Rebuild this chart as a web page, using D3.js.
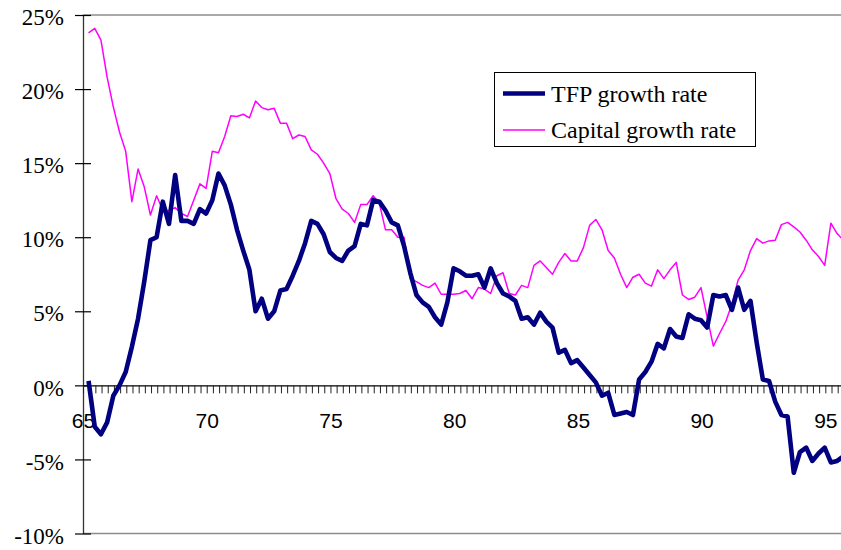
<!DOCTYPE html>
<html><head><meta charset="utf-8">
<script src="https://cdn.jsdelivr.net/npm/d3@7"></script>
<style>
html,body{margin:0;padding:0;background:#fff;}
svg{display:block;}
</style></head>
<body>
<svg id="chart" width="841" height="550"></svg>
<script>
// Quarterly data starting 1965Q1
const startYear = 65;
const yearLabels = ["65","70","75","80","85","90","95"];
const yTicks = [-10,-5,0,5,10,15,20,25];
const seriesNames = ["TFP growth rate","Capital growth rate"];
const tfp = [0.3,-2.8,-3.3,-2.5,-0.7,0.0,0.9,2.6,4.5,7.0,
 9.8,10.0,12.4,10.9,14.2,11.1,11.1,10.9,11.9,11.6,
 12.5,14.3,13.5,12.2,10.5,9.1,7.8,5.0,5.85,4.5,
 5.0,6.4,6.5,7.4,8.4,9.6,11.1,10.9,10.2,9.0,
 8.6,8.4,9.1,9.4,10.9,10.8,12.5,12.4,11.8,11.0,
 10.8,9.4,7.6,6.1,5.6,5.3,4.6,4.1,5.6,7.9,
 7.7,7.4,7.4,7.5,6.6,7.9,6.9,6.2,6.0,5.7,
 4.5,4.6,4.1,4.9,4.3,3.9,2.2,2.4,1.5,1.7,
 1.2,0.7,0.2,-0.7,-0.5,-2.0,-1.9,-1.8,-2.0,0.4,
 0.9,1.6,2.8,2.5,3.8,3.3,3.2,4.8,4.5,4.4,
 3.9,6.1,6.0,6.1,5.1,6.6,5.1,5.7,2.9,0.4,
 0.3,-1.1,-2.0,-2.1,-5.9,-4.5,-4.2,-5.1,-4.6,-4.2,
 -5.2,-5.1,-4.8];
const capital = [23.8,24.1,23.3,20.8,18.8,17.1,15.8,12.4,14.6,13.4,
 11.5,12.8,11.8,11.8,12.0,11.6,11.4,12.5,13.6,13.3,
 15.8,15.7,16.8,18.2,18.15,18.3,18.05,19.2,18.75,18.6,
 18.7,17.7,17.7,16.65,16.9,16.8,15.9,15.6,15.0,14.3,
 12.6,11.9,11.6,11.0,12.2,12.2,12.8,12.3,10.5,10.5,
 10.0,10.0,7.2,7.0,6.75,6.6,6.9,6.15,6.15,6.15,
 6.2,6.4,5.85,6.6,6.5,6.2,7.4,7.6,6.2,6.1,
 6.75,6.6,8.1,8.4,7.95,7.5,8.3,8.9,8.4,8.4,
 9.3,10.8,11.2,10.5,9.1,8.6,7.5,6.6,7.3,7.5,
 6.9,6.7,7.8,7.2,7.8,8.3,6.1,5.8,5.95,6.6,
 4.6,2.65,3.5,4.3,5.5,7.1,7.8,9.1,9.9,9.6,
 9.75,9.8,10.85,11.0,10.7,10.35,9.8,9.15,8.7,8.1,
 10.95,10.25,9.8];

const SERIF = "'Liberation Serif','Times New Roman',Times,serif";
const SANS = "'Liberation Sans',Arial,Helvetica,sans-serif";

const svg = d3.select("#chart");
const nQ = 123;
const mLeft = 83, mTop = 15, mBottom = 533.5, qw = 6.186;
const mRight = mLeft + nQ*qw;
const pointOffset = 0.9;

const x = d3.scaleLinear().domain([0, nQ]).range([mLeft, mRight]);
const y = d3.scaleLinear().domain([-10, 25]).range([mBottom, mTop]);

// plot frame (gray)
const frame = svg.append("g").attr("stroke","#8c8c8c").attr("stroke-width",1.3).attr("fill","none");
frame.append("line").attr("x1",mLeft).attr("x2",mRight).attr("y1",y(25)).attr("y2",y(25));
frame.append("line").attr("x1",mLeft).attr("x2",mRight).attr("y1",y(-10)).attr("y2",y(-10));
frame.append("line").attr("x1",mRight).attr("x2",mRight).attr("y1",y(25)).attr("y2",y(-10));

// y axis
const yAxis = svg.append("g").attr("transform",`translate(${mLeft},0)`)
  .call(d3.axisLeft(y).tickValues(yTicks).tickFormat(d=>d+"%").tickSize(8).tickSizeOuter(0).tickPadding(11));
yAxis.attr("font-family",SERIF).attr("font-size",23);
yAxis.selectAll("text").style("font-family",SERIF).style("font-size","23px").style("fill","#000").attr("dy","0.42em");
yAxis.select(".domain").attr("stroke","#333").attr("stroke-width",1.3);
yAxis.selectAll(".tick line").attr("stroke","#000").attr("stroke-width",1.2);
const yAxisR = svg.append("g").attr("transform",`translate(${mLeft},0)`)
  .call(d3.axisRight(y).tickValues(yTicks).tickFormat("").tickSize(8).tickSizeOuter(0));
yAxisR.select(".domain").remove();
yAxisR.selectAll(".tick line").attr("stroke","#000").attr("stroke-width",1.2);

// x axis at 0%
const xAxis = svg.append("g").attr("transform",`translate(0,${y(0)})`)
  .call(d3.axisBottom(x).tickValues(d3.range(0, nQ+1)).tickSize(8).tickSizeOuter(0).tickPadding(20)
    .tickFormat(d => d % 20 === 0 && yearLabels[d/20] ? yearLabels[d/20] : ""));
xAxis.attr("font-family",SANS).attr("font-size",21);
xAxis.selectAll("text").style("font-family",SANS).style("font-size","21px").style("fill","#000");
xAxis.select(".domain").attr("stroke","#000").attr("stroke-width",1.2);
xAxis.selectAll(".tick line").attr("stroke","#222").attr("stroke-width",1);

// lines
const line = d3.line().x((d,i)=>x(i+pointOffset)).y(d=>y(d)).curve(d3.curveLinear);
svg.append("path").datum(capital).attr("d",line).attr("fill","none").attr("stroke","#ff00ff").attr("stroke-width",1.5).attr("stroke-linejoin","round");
svg.append("path").datum(tfp).attr("d",line).attr("fill","none").attr("stroke","#000080").attr("stroke-width",4.6).attr("stroke-linejoin","round");

// legend
const lg = svg.append("g");
lg.append("rect").attr("x",494.5).attr("y",72.5).attr("width",261).attr("height",74).attr("fill","#fff").attr("stroke","#000").attr("stroke-width",1);
const lgItems = [{name:seriesNames[0],color:"#000080",w:4.6,yy:93.5},{name:seriesNames[1],color:"#ff00ff",w:1.5,yy:130}];
lgItems.forEach(it=>{
  lg.append("line").attr("x1",503).attr("x2",545).attr("y1",it.yy).attr("y2",it.yy).attr("stroke",it.color).attr("stroke-width",it.w);
  lg.append("text").attr("x",551).attr("y",it.yy+8.2).text(it.name)
    .style("font-family",SERIF).style("font-size","24px").style("fill","#000");
});
</script>
</body></html>
